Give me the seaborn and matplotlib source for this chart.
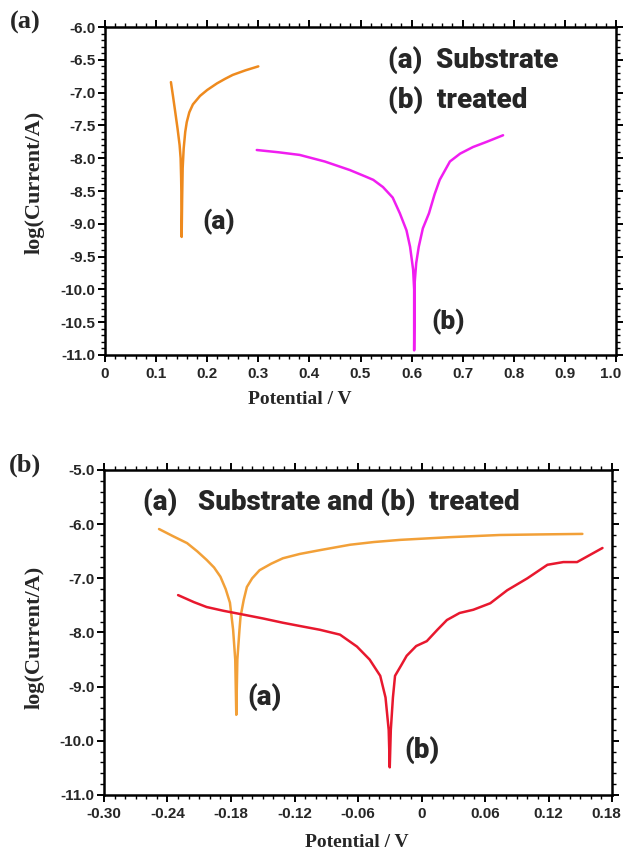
import numpy as np
import pandas as pd
import matplotlib
matplotlib.use("Agg")
import matplotlib.pyplot as plt
from matplotlib.ticker import MultipleLocator, FixedLocator
from matplotlib.transforms import ScaledTranslation
import seaborn as sns

# ---------------- data ----------------
# Panel (a): top
top_a_x = [0.129, 0.133, 0.137, 0.142, 0.146, 0.148, 0.149, 0.150, 0.150,
           0.151, 0.152, 0.154, 0.157, 0.160, 0.165, 0.172, 0.186, 0.200,
           0.219, 0.235, 0.250, 0.275, 0.300]
top_a_y = [-6.84, -7.05, -7.27, -7.55, -7.80, -8.00, -8.30, -8.80, -9.20,
           -8.60, -8.15, -7.85, -7.60, -7.45, -7.30, -7.18, -7.05, -6.96,
           -6.86, -6.79, -6.73, -6.66, -6.60]

top_b_x = [0.297, 0.340, 0.381, 0.430, 0.479, 0.510, 0.525, 0.544, 0.563,
           0.577, 0.590, 0.597, 0.603, 0.605, 0.605, 0.606, 0.609, 0.614,
           0.622, 0.634, 0.645, 0.655, 0.675, 0.695, 0.720, 0.747, 0.779]
top_b_y = [-7.875, -7.91, -7.95, -8.05, -8.18, -8.28, -8.33, -8.44, -8.60,
           -8.84, -9.10, -9.35, -9.70, -10.00, -10.93, -9.90, -9.60, -9.35,
           -9.07, -8.84, -8.55, -8.33, -8.05, -7.93, -7.83, -7.75, -7.65]

# Panel (b): bottom
bot_a_x = [-0.248, -0.235, -0.2215, -0.212, -0.203, -0.196, -0.190, -0.185,
           -0.181, -0.178, -0.176, -0.175, -0.174, -0.172, -0.171, -0.168,
           -0.165, -0.160, -0.153, -0.142, -0.131, -0.115, -0.096, -0.0675,
           -0.045, -0.020, 0.027, 0.074, 0.110, 0.152]
bot_a_y = [-6.09, -6.22, -6.35, -6.50, -6.66, -6.80, -6.97, -7.20,
           -7.45, -7.95, -8.50, -9.52, -8.50, -7.95, -7.71, -7.40,
           -7.16, -7.00, -6.85, -6.73, -6.63, -6.55, -6.48, -6.38,
           -6.33, -6.29, -6.24, -6.20, -6.19, -6.18]

bot_b_x = [-0.230, -0.215, -0.203, -0.187, -0.171, -0.150, -0.131, -0.115,
           -0.096, -0.077, -0.061, -0.049, -0.039, -0.034, -0.031, -0.030,
           -0.029, -0.027, -0.025, -0.019, -0.014, -0.005, 0.005, 0.015,
           0.024, 0.036, 0.049, 0.065, 0.081, 0.100, 0.119, 0.134, 0.147,
           0.159, 0.171]
bot_b_y = [-7.31, -7.44, -7.53, -7.60, -7.66, -7.74, -7.82, -7.88,
           -7.95, -8.04, -8.26, -8.50, -8.80, -9.20, -9.80, -10.49,
           -9.80, -9.20, -8.80, -8.60, -8.43, -8.25, -8.16, -7.95,
           -7.77, -7.64, -7.58, -7.46, -7.22, -7.00, -6.75, -6.70, -6.70,
           -6.57, -6.44]

top_xticks = [0.0, 0.1, 0.2, 0.3, 0.4, 0.5, 0.6, 0.7, 0.8, 0.9, 1.0]
top_xlabels = ["0", "0.1", "0.2", "0.3", "0.4", "0.5", "0.6", "0.7", "0.8", "0.9", "1.0"]
top_yticks = [-6.0, -6.5, -7.0, -7.5, -8.0, -8.5, -9.0, -9.5, -10.0, -10.5, -11.0]
top_ylabels = ["-6.0", "-6.5", "-7.0", "-7.5", "-8.0", "-8.5", "-9.0", "-9.5", "-10.0", "-10.5", "-11.0"]

bot_xticks = [-0.30, -0.24, -0.18, -0.12, -0.06, 0.0, 0.06, 0.12, 0.18]
bot_xlabels = ["-0.30", "-0.24", "-0.18", "-0.12", "-0.06", "0", "0.06", "0.12", "0.18"]
bot_yticks = [-5.0, -6.0, -7.0, -8.0, -9.0, -10.0, -11.0]
bot_ylabels = ["-5.0", "-6.0", "-7.0", "-8.0", "-9.0", "-10.0", "-11.0"]

# ---------------- style ----------------
sns.set_theme(style="ticks")
plt.rcParams["font.family"] = ["Liberation Sans", "DejaVu Sans"]

ORANGE_TOP = "#EE8A1E"
MAGENTA = "#F01EF0"
ORANGE_BOT = "#F2A038"
RED = "#E8182E"

tick_font = dict(family=["Liberation Sans", "DejaVu Sans"], weight="bold", size=11)
serif_font = dict(family=["Liberation Serif", "DejaVu Serif"], weight="bold")
annot_font = dict(family=["Roboto", "Open Sans", "DejaVu Sans"], weight="black")

fig = plt.figure(figsize=(6.25, 8.55), dpi=100)
ax1 = fig.add_axes([0.168, 0.5848, 0.8176, 0.3836])
ax2 = fig.add_axes([0.1664, 0.0702, 0.8128, 0.3801])


def style_axes(ax, xt, xl, yt, yl, xminor, yminor):
    for s in ax.spines.values():
        s.set_linewidth(1.8)
        s.set_color("black")
    ax.xaxis.set_major_locator(FixedLocator(xt))
    ax.yaxis.set_major_locator(FixedLocator(yt))
    ax.set_xticklabels(xl, fontdict=tick_font)
    ax.set_yticklabels(yl, fontdict=tick_font)
    ax.xaxis.set_minor_locator(MultipleLocator(xminor))
    ax.yaxis.set_minor_locator(MultipleLocator(yminor))
    ax.tick_params(which="both", direction="out", top=True, right=True,
                   bottom=True, left=True, color="black")
    ax.tick_params(which="major", length=5, width=1.4)
    ax.tick_params(which="minor", length=3, width=1.0)
    ax.tick_params(axis="x", which="major", pad=4)
    ax.tick_params(axis="y", which="major", pad=2)
    ax.grid(False)
    # keep the last x tick label inside the figure
    last = ax.get_xticklabels()[-1]
    last.set_transform(last.get_transform() + ScaledTranslation(-4 / 72, 0, fig.dpi_scale_trans))


# ----- top panel -----
df_ta = pd.DataFrame({"x": top_a_x, "y": top_a_y})
df_tb = pd.DataFrame({"x": top_b_x, "y": top_b_y})
sns.lineplot(data=df_ta, x="x", y="y", sort=False, estimator=None, ax=ax1,
             color=ORANGE_TOP, lw=1.8)
sns.lineplot(data=df_tb, x="x", y="y", sort=False, estimator=None, ax=ax1,
             color=MAGENTA, lw=1.8)
ax1.set_xlim(0, 1.0)
ax1.set_ylim(-11.0, -6.0)
style_axes(ax1, top_xticks, top_xlabels, top_yticks, top_ylabels, 0.02, 0.1)

ax1.set_xlabel("Potential / V", fontsize=14, **serif_font)
ax1.set_ylabel("log(Current/A)", fontsize=16, **serif_font)
ax1.xaxis.label.set_va("center")
ax1.yaxis.label.set_va("center")
ax1.xaxis.set_label_coords(0.382, -0.137)
ax1.yaxis.set_label_coords(-0.137, 0.527)

ax1.text(0.553, -6.51, "(a)  Substrate", fontsize=20, va="center", ha="left", **annot_font)
ax1.text(0.553, -7.11, "(b)  treated", fontsize=20, va="center", ha="left", **annot_font)
ax1.text(0.222, -8.97, "(a)", fontsize=19, va="center", ha="center", **annot_font)
ax1.text(0.671, -10.50, "(b)", fontsize=19, va="center", ha="center", **annot_font)

# ----- bottom panel -----
df_ba = pd.DataFrame({"x": bot_a_x, "y": bot_a_y})
df_bb = pd.DataFrame({"x": bot_b_x, "y": bot_b_y})
sns.lineplot(data=df_ba, x="x", y="y", sort=False, estimator=None, ax=ax2,
             color=ORANGE_BOT, lw=1.8)
sns.lineplot(data=df_bb, x="x", y="y", sort=False, estimator=None, ax=ax2,
             color=RED, lw=1.8)
ax2.set_xlim(-0.30, 0.18)
ax2.set_ylim(-11.0, -5.0)
style_axes(ax2, bot_xticks, bot_xlabels, bot_yticks, bot_ylabels, 0.01, 0.2)

ax2.set_xlabel("Potential / V", fontsize=14, **serif_font)
ax2.set_ylabel("log(Current/A)", fontsize=16, **serif_font)
ax2.xaxis.label.set_va("center")
ax2.yaxis.label.set_va("center")
ax2.xaxis.set_label_coords(0.498, -0.145)
ax2.yaxis.set_label_coords(-0.136, 0.486)

ax2.text(-0.263, -5.60, "(a)   Substrate and (b)  treated", fontsize=20,
         va="center", ha="left", **annot_font)
ax2.text(-0.148, -9.19, "(a)", fontsize=20, va="center", ha="center", **annot_font)
ax2.text(0.0005, -10.17, "(b)", fontsize=20, va="center", ha="center", **annot_font)

# panel labels
fig.text(0.040, 0.974, "(a)", fontsize=19, ha="center", va="center", **serif_font)
fig.text(0.040, 0.456, "(b)", fontsize=19, ha="center", va="center", **serif_font)

fig.savefig("out.png", dpi=100)
